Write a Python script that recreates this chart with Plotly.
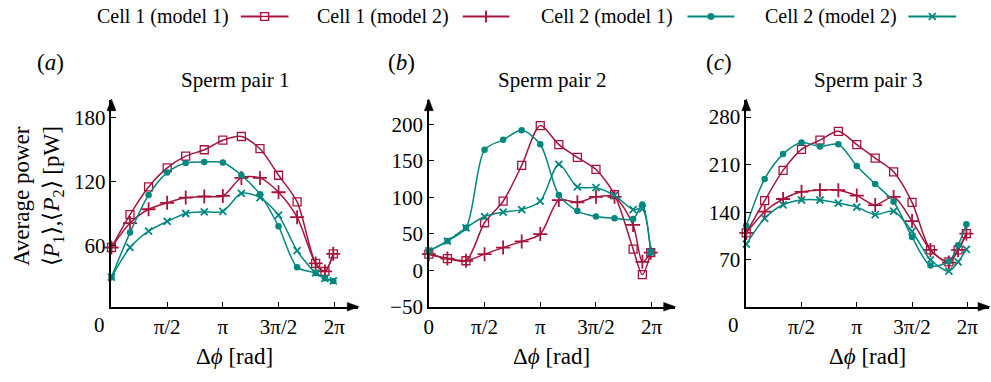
import math
import plotly.graph_objects as go

W, H = 991, 382
PI = math.pi

# ---------------- data ----------------
phase_steps = [0, 1, 2, 3, 4, 5, 6, 7, 8, 9, 10, 11, 11.5, 11.95]   # in units of pi/6
dphi = [k * PI / 6 for k in phase_steps]

series_names = ["Cell 1 (model 1)", "Cell 1 (model 2)", "Cell 2 (model 1)", "Cell 2 (model 2)"]
panel_titles = ["Sperm pair 1", "Sperm pair 2", "Sperm pair 3"]
panel_tags = ["(<i>a</i>)", "(<i>b</i>)", "(<i>c</i>)"]

pair1_c1m1 = [58, 89, 115, 133, 144, 150, 159, 162.5, 151, 126, 101, 43, 35.5, 52]
pair1_c1m2 = [58, 81, 94, 100, 105, 106, 106.5, 123.5, 123.5, 110, 86.5, 43, 35.5, 52]
pair1_c2m1 = [30, 72, 107.5, 128.5, 137.5, 138.5, 138, 126, 108, 78, 39.5, 34, 29, 26.5]
pair1_c2m2 = [30, 58, 73.5, 82.5, 90, 91.5, 92, 109, 105, 88.5, 55, 34, 29, 26.5]

pair2_c1m1 = [22, 16, 13, 65, 94.5, 143.5, 198, 172, 154.5, 138, 103.5, 29, -6, 24]
pair2_c1m2 = [22, 16, 13, 22, 31, 39.5, 49.5, 96, 93, 100.5, 100.5, 62, 11.5, 24]
pair2_c2m1 = [26.5, 40, 58, 165, 178.5, 191.5, 172.5, 103, 81, 73.5, 71, 70, 90, 24.5]
pair2_c2m2 = [26.5, 40, 58, 73.5, 79.5, 83, 94.5, 145, 114, 113, 102.5, 83, 84, 24.5]

pair3_c1m1 = [109.5, 157, 201.5, 232.5, 246, 259, 239.5, 219.5, 199.5, 154.5, 84.5, 67, 84.5, 108.5]
pair3_c1m2 = [109.5, 141, 159.5, 170, 172.5, 172.5, 164.5, 150.5, 162.5, 127, 84.5, 66, 84.5, 108.5]
pair3_c2m1 = [120, 189, 225.5, 242.5, 236.5, 240, 208, 181.5, 155.5, 103.5, 61.5, 67.5, 91.5, 122.5]
pair3_c2m2 = [93, 131, 151, 158, 158, 153.5, 147.5, 136.5, 141.5, 112, 70, 53.5, 67, 85.5]

panels = [
    [pair1_c1m1, pair1_c1m2, pair1_c2m1, pair1_c2m2],
    [pair2_c1m1, pair2_c1m2, pair2_c2m1, pair2_c2m2],
    [pair3_c1m1, pair3_c1m2, pair3_c2m1, pair3_c2m2],
]

y_ticks = [[60, 120, 180], [-50, 0, 50, 100, 150, 200], [70, 140, 210, 280]]
y_ranges = [[2.2, 196.8], [-50, 233], [1, 305]]
x_ranges = [[0, 6.96], [0, 6.93], [0, 6.90]]
x_tickvals_all = [PI / 2, PI, 3 * PI / 2, 2 * PI]
x_ticktext_all = ["π/2", "π", "3π/2", "2π"]

# ---------------- styles ----------------
RED = "#A6143C"
TEAL = "#00877F"
FONT = "Liberation Serif"
colors = [RED, RED, TEAL, TEAL]
markers = [
    dict(symbol="square-open", size=8, color=RED, line=dict(width=1.3, color=RED)),
    dict(symbol="cross-thin", size=10, color=RED, line=dict(width=1.8, color=RED)),
    dict(symbol="circle", size=6.5, color=TEAL, line=dict(width=0, color=TEAL)),
    dict(symbol="x-thin", size=7, color=TEAL, line=dict(width=1.8, color=TEAL)),
]

# pixel geometry
x_dom_px = [(107, 355), (426, 673), (745, 989)]
y_bot_px, y_top_px = 316.7, 103.3
ydom = [1 - y_bot_px / H, 1 - y_top_px / H]


def px(x):
    return x / W


def py(y):
    return 1 - y / H


fig = go.Figure()

for i, data in enumerate(panels):
    xa = "x" if i == 0 else f"x{i+1}"
    ya = "y" if i == 0 else f"y{i+1}"
    for j, vals in enumerate(data):
        fig.add_trace(go.Scatter(
            x=dphi, y=vals, mode="lines+markers", name=series_names[j],
            line=dict(color=colors[j], width=1.5, shape="spline", smoothing=0.8),
            marker=markers[j], cliponaxis=False, showlegend=False,
            xaxis=xa, yaxis=ya,
        ))

axis_common = dict(showline=True, linecolor="black", linewidth=1.5, showgrid=False,
                   zeroline=False, ticks="inside", ticklen=5, tickwidth=1.2,
                   tickcolor="black", tickfont=dict(family=FONT, size=21, color="black"))

layout = dict(width=W, height=H, margin=dict(l=0, r=0, t=0, b=0),
              font=dict(family=FONT, size=21, color="black"),
              paper_bgcolor="white", plot_bgcolor="white", showlegend=False)

annotations = []
shapes = []
AL, AW = 11, 4.5   # arrowhead length / half-width in pixels
for i in range(3):
    sx = "" if i == 0 else str(i + 1)
    x0, x1 = x_dom_px[i]
    if i == 1:
        tv = [0] + x_tickvals_all
        tt = ["0"] + x_ticktext_all
    else:
        tv = x_tickvals_all
        tt = x_ticktext_all
    layout["xaxis" + sx] = dict(axis_common, domain=[px(x0), px(x1)], range=x_ranges[i],
                                tickvals=tv, ticktext=tt, anchor="y" + sx)
    layout["yaxis" + sx] = dict(axis_common, domain=ydom, range=y_ranges[i],
                                tickvals=y_ticks[i], anchor="x" + sx)
    # arrowheads drawn in paper coordinates at the axis ends
    shapes.append(dict(type="path", xref="paper", yref="paper", layer="above",
                       path=(f"M {px(x1 - AL):.5f},{py(y_bot_px - AW):.5f} "
                             f"L {px(x1 + 1):.5f},{py(y_bot_px):.5f} "
                             f"L {px(x1 - AL):.5f},{py(y_bot_px + AW):.5f} Z"),
                       fillcolor="black", line=dict(color="black", width=0.5)))
    shapes.append(dict(type="path", xref="paper", yref="paper", layer="above",
                       path=(f"M {px(x0 - AW):.5f},{py(y_top_px + AL):.5f} "
                             f"L {px(x0):.5f},{py(y_top_px - 1):.5f} "
                             f"L {px(x0 + AW):.5f},{py(y_top_px + AL):.5f} Z"),
                       fillcolor="black", line=dict(color="black", width=0.5)))
    # titles
    cx = (x0 + x1) / 2
    annotations.append(dict(xref="paper", yref="paper", x=px(cx), y=py(83), text=panel_titles[i],
                            showarrow=False, font=dict(family=FONT, size=21, color="black"),
                            xanchor="center", yanchor="middle"))
    annotations.append(dict(xref="paper", yref="paper", x=px(cx), y=py(368), text="Δ<i>ϕ</i> [rad]",
                            showarrow=False, font=dict(family=FONT, size=23, color="black"),
                            xanchor="center", yanchor="middle"))

for tag, xc in zip(panel_tags, [45.5, 399, 717.5]):
    annotations.append(dict(xref="paper", yref="paper", x=px(xc), y=py(65), text=tag,
                            showarrow=False, font=dict(family=FONT, size=23, color="black"),
                            xanchor="center", yanchor="middle"))

for xc in [95, 732]:
    annotations.append(dict(xref="paper", yref="paper", x=px(xc), y=py(336), text="0",
                            showarrow=False, font=dict(family=FONT, size=21, color="black"),
                            xanchor="center", yanchor="middle"))

annotations.append(dict(xref="paper", yref="paper", x=px(33), y=py(203), textangle=-90,
                        text="Average power<br>⟨<i>P</i><sub>1</sub>⟩,⟨<i>P</i><sub>2</sub>⟩ [pW]",
                        showarrow=False, font=dict(family=FONT, size=23, color="black"),
                        xanchor="center", yanchor="middle"))

# ---------------- manual legend (text on the left, key on the right), drawn with shapes ----------------
leg_text_right = [226.7, 448.3, 673.3, 898.3]
leg_key_span = [(237, 285), (460, 507), (686, 733), (908, 956)]
leg_y = 17
for j in range(4):
    a, b = leg_key_span[j]
    c = (a + b) / 2
    col = colors[j]
    shapes.append(dict(type="line", xref="paper", yref="paper", x0=px(a), x1=px(b),
                       y0=py(leg_y), y1=py(leg_y), line=dict(color=col, width=2)))
    if j == 0:
        shapes.append(dict(type="rect", xref="paper", yref="paper", x0=px(c - 4), x1=px(c + 4),
                           y0=py(leg_y + 4), y1=py(leg_y - 4), fillcolor="white",
                           line=dict(color=col, width=1.3)))
        shapes.append(dict(type="line", xref="paper", yref="paper", x0=px(c - 4), x1=px(c + 4),
                           y0=py(leg_y), y1=py(leg_y), line=dict(color=col, width=1.3)))
    elif j == 1:
        shapes.append(dict(type="line", xref="paper", yref="paper", x0=px(c), x1=px(c),
                           y0=py(leg_y - 6), y1=py(leg_y + 6), line=dict(color=col, width=2)))
    elif j == 2:
        shapes.append(dict(type="circle", xref="paper", yref="paper", x0=px(c - 3.3), x1=px(c + 3.3),
                           y0=py(leg_y + 3.3), y1=py(leg_y - 3.3), fillcolor=col,
                           line=dict(color=col, width=0.5)))
    else:
        shapes.append(dict(type="line", xref="paper", yref="paper", x0=px(c - 3.5), x1=px(c + 3.5),
                           y0=py(leg_y - 3.5), y1=py(leg_y + 3.5), line=dict(color=col, width=1.8)))
        shapes.append(dict(type="line", xref="paper", yref="paper", x0=px(c - 3.5), x1=px(c + 3.5),
                           y0=py(leg_y + 3.5), y1=py(leg_y - 3.5), line=dict(color=col, width=1.8)))
    annotations.append(dict(xref="paper", yref="paper", x=px(leg_text_right[j]), y=py(leg_y),
                            text=series_names[j], showarrow=False,
                            font=dict(family=FONT, size=20, color="black"),
                            xanchor="right", yanchor="middle"))

layout["annotations"] = annotations
layout["shapes"] = shapes
fig.update_layout(**layout)
fig.write_html("out.html")
